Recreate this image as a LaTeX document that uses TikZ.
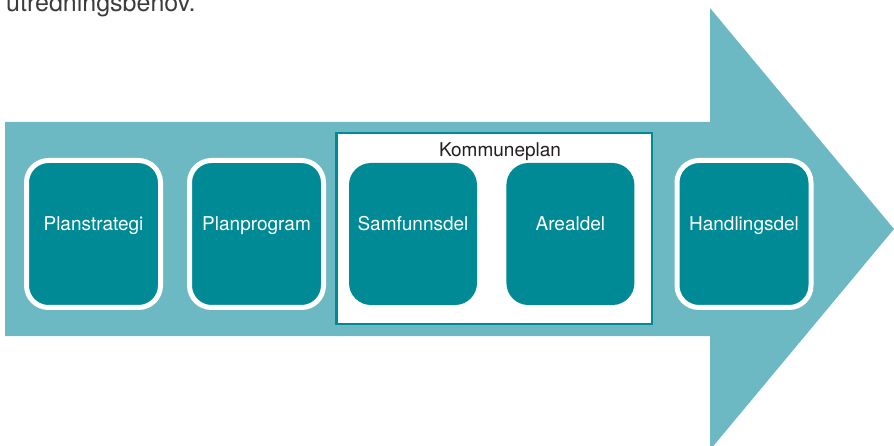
\documentclass[tikz,border=0pt]{standalone}
\usepackage{fontspec}
\setmainfont{TeX Gyre Heros}
\usepackage{xcolor}
\usepackage{tikz}
\usetikzlibrary{positioning}
\definecolor{arrowteal}{HTML}{6CB9C4}
\definecolor{boxteal}{HTML}{008A96}
\definecolor{titlegray}{HTML}{231F20}
\definecolor{introgray}{HTML}{3C3C3C}

\tikzset{
  planbox/.style={fill=boxteal, rounded corners=22pt, text=white, inner sep=0pt,
    font=\fontsize{19}{22}\selectfont, text height=14pt, text depth=21pt},
  stepbox/.style={planbox, draw=white, line width=5pt,
    minimum width=134pt, minimum height=147pt},
  partbox/.style={planbox, minimum width=128pt, minimum height=142pt},
}

\begin{document}
\begin{tikzpicture}[x=1pt, y=-1pt]
    \useasboundingbox (0,0) rectangle (894,446);
    \clip (0,0) rectangle (894,446);

    % tail of the text above
    \node[anchor=base west, inner sep=0pt, text=introgray,
          font=\fontsize{25}{30}\selectfont] (intro) at (6,11.5) {utredningsbehov.};

    % big arrow
    \fill[arrowteal] (5,122) -- (710,122) -- (710,8) -- (894,229)
      -- (710,450) -- (710,336) -- (5,336) -- cycle;

    \node[stepbox] (planstrategi) at (93.5,234) {Planstrategi};
    \node[stepbox, right=24pt of planstrategi] (planprogram) {Planprogram};

    % kommuneplan frame
    \node[draw=boxteal, fill=white, line width=2.5pt,
          minimum width=315.5pt, minimum height=190.5pt] (kommuneplan) at (494,228.5) {};
    \node[anchor=base, inner sep=0pt, text=titlegray,
          font=\fontsize{19}{22}\selectfont] (tittel) at (500,157) {Kommuneplan};
    \node[partbox] (samfunnsdel) at (413,234) {Samfunnsdel};
    \node[partbox, right=29pt of samfunnsdel] (arealdel) {Arealdel};

    \node[stepbox] (handlingsdel) at (744,234) {Handlingsdel};
  \end{tikzpicture}
\end{document}
